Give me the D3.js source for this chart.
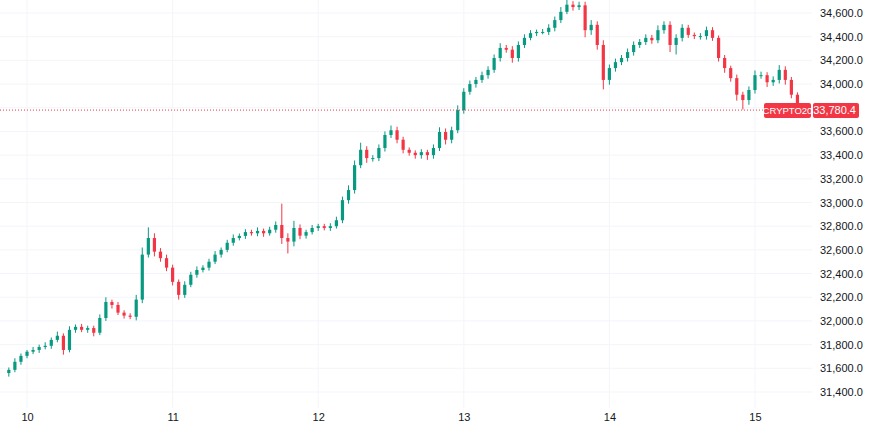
<!DOCTYPE html>
<html>
<head>
<meta charset="utf-8">
<script src="https://cdn.jsdelivr.net/npm/d3@7"></script>
<style>
  body { margin: 0; background: #fff; }
  text { font-family: "Liberation Sans", Arial, sans-serif; }
</style>
</head>
<body>
<div id="chart"></div>
<script>
// hourly candles, hour 0 = day 10 00:00, first candle 9th 21:00
const firstHour = -3;
const firstOpen = 31560;
const closes = [
  31587, 31655, 31705, 31740, 31755, 31780, 31790, 31840, 31875, 31755,
  31925, 31950, 31925, 31940, 31900, 32025, 32160, 32135, 32070, 32045,
  32035, 32180, 32560, 32700, 32585, 32530, 32450, 32330, 32220, 32305,
  32390, 32430, 32450, 32500, 32560, 32600, 32660, 32700, 32718, 32750,
  32740, 32760, 32740, 32770, 32810, 32700, 32670, 32785, 32720, 32750,
  32785, 32800, 32785, 32800, 32850, 33020, 33105, 33315, 33445, 33375,
  33375, 33460, 33570, 33610, 33530, 33445, 33420, 33400, 33425, 33400,
  33460, 33595, 33530, 33610, 33780, 33935, 34000, 34035, 34075, 34120,
  34220, 34305, 34290, 34220, 34330, 34390, 34430, 34440, 34440, 34475,
  34540, 34610, 34670, 34650, 34665, 34455, 34500, 34330, 34035, 34135,
  34185, 34220, 34270, 34330, 34355, 34390, 34370, 34455, 34500, 34330,
  34390, 34475, 34415, 34405, 34405, 34455, 34390, 34220, 34135, 34050,
  33910, 33865, 33950, 34075, 34075, 34015, 34035, 34120, 34035, 33910,
  33780.4
];
// wick extensions beyond the body (price units)
const wickUp = [
  20, 30, 20, 15, 25, 20, 30, 20, 35, 20, 30, 20, 25, 20, 20, 30, 40, 20, 25, 20,
  20, 40, 60, 90, 40, 30, 30, 25, 20, 30, 25, 30, 20, 25, 30, 20, 25, 30, 20, 25,
  20, 30, 20, 25, 30, 180, 40, 60, 30, 20, 25, 20, 20, 25, 30, 30, 40, 40, 60, 30,
  25, 30, 30, 40, 30, 25, 20, 20, 25, 20, 30, 40, 30, 30, 40, 30, 30, 25, 30, 30,
  30, 40, 25, 30, 30, 30, 25, 20, 25, 30, 30, 40, 40, 30, 30, 30, 40, 30, 40, 30,
  30, 25, 30, 30, 25, 30, 25, 40, 30, 30, 30, 30, 25, 20, 25, 30, 25, 20, 25, 20,
  30, 25, 30, 40, 30, 25, 30, 40, 30, 25, 20
];
const wickDn = [
  30, 20, 25, 20, 20, 25, 20, 25, 20, 40, 20, 25, 20, 25, 30, 20, 25, 30, 20, 25,
  20, 30, 30, 25, 40, 30, 30, 30, 40, 25, 20, 25, 20, 25, 20, 25, 20, 25, 20, 25,
  20, 25, 30, 20, 25, 50, 100, 40, 30, 25, 20, 25, 20, 25, 20, 25, 30, 30, 25, 40,
  30, 25, 30, 25, 30, 30, 25, 30, 30, 40, 30, 25, 40, 30, 25, 30, 25, 30, 25, 30,
  25, 30, 25, 40, 30, 25, 20, 25, 20, 25, 30, 25, 20, 30, 25, 60, 40, 40, 80, 40,
  30, 25, 30, 30, 25, 25, 30, 25, 30, 60, 80, 30, 25, 25, 30, 30, 25, 30, 40, 30,
  50, 80, 40, 30, 30, 40, 30, 30, 40, 30, 20
];
const yTicks = [31400, 31600, 31800, 32000, 32200, 32400, 32600, 32800, 33000,
  33200, 33400, 33600, 33800, 34000, 34200, 34400, 34600];
const dayLabels = ["10", "11", "12", "13", "14", "15"];
const symbol = "CRYPTO20";

const W = 870, H = 427;
const plotRight = 812;
const upColor = "#089981", downColor = "#f23645";

const candles = closes.map((c, i) => {
  const o = i === 0 ? firstOpen : closes[i - 1];
  return {
    h: firstHour + i, o: o, c: c,
    hi: Math.max(o, c) + wickUp[i],
    lo: Math.min(o, c) - wickDn[i]
  };
});

const x = d3.scaleLinear().domain([-3.3, 129.4]).range([7, plotRight]);
const y = d3.scaleLinear().domain([31400, 34600]).range([392, 13]);
const last = closes[closes.length - 1];

const svg = d3.select("#chart").append("svg")
  .attr("width", W).attr("height", H);

// grid
svg.append("g").selectAll("line").data(yTicks).join("line")
  .attr("x1", 0).attr("x2", plotRight)
  .attr("y1", d => y(d)).attr("y2", d => y(d))
  .attr("stroke", "#f3f5fa");
svg.append("g").selectAll("line").data(dayLabels).join("line")
  .attr("x1", (d, i) => x(i * 24)).attr("x2", (d, i) => x(i * 24))
  .attr("y1", 0).attr("y2", 408)
  .attr("stroke", "#f3f5fa");

// y axis labels (the one hidden behind the last-price tag is skipped)
const yAxis = d3.axisRight(y)
  .tickValues(yTicks.filter(t => Math.abs(y(t) - y(last)) > 12))
  .tickSize(0).tickPadding(0)
  .tickFormat(d => d3.format(",.1f")(d));
svg.append("g")
  .attr("transform", `translate(${plotRight + 8},0)`)
  .call(yAxis)
  .call(g => g.select(".domain").remove())
  .call(g => g.selectAll("text").attr("font-size", 11).attr("fill", "#131722"));

// x axis labels
const xAxis = d3.axisBottom(x).tickValues(dayLabels.map((d, i) => i * 24))
  .tickSize(0).tickPadding(0)
  .tickFormat((d, i) => dayLabels[i]);
svg.append("g")
  .attr("transform", "translate(0,413)")
  .call(xAxis)
  .call(g => g.select(".domain").remove())
  .call(g => g.selectAll("text").attr("font-size", 11).attr("fill", "#131722"));

// candles
const bw = 3.2;
const cg = svg.append("g");
cg.selectAll("line").data(candles).join("line")
  .attr("x1", d => x(d.h)).attr("x2", d => x(d.h))
  .attr("y1", d => y(d.hi)).attr("y2", d => y(d.lo))
  .attr("stroke", d => d.c >= d.o ? upColor : downColor)
  .attr("stroke-width", 1);
cg.selectAll("rect").data(candles).join("rect")
  .attr("x", d => x(d.h) - bw / 2)
  .attr("width", bw)
  .attr("y", d => y(Math.max(d.o, d.c)))
  .attr("height", d => Math.max(1, Math.abs(y(d.o) - y(d.c))))
  .attr("fill", d => d.c >= d.o ? upColor : downColor);

// last price line and labels
svg.append("line")
  .attr("x1", 0).attr("x2", plotRight)
  .attr("y1", y(last)).attr("y2", y(last))
  .attr("stroke", downColor).attr("stroke-width", 1)
  .attr("stroke-dasharray", "1,2");
svg.append("rect").attr("x", 764).attr("y", y(last) - 7).attr("width", 47).attr("height", 15)
  .attr("rx", 2).attr("fill", downColor);
svg.append("text").attr("x", 787.5).attr("y", y(last) + 3.5).attr("text-anchor", "middle")
  .attr("font-size", 9.5).attr("fill", "#fff").text(symbol);
svg.append("rect").attr("x", 813).attr("y", y(last) - 7).attr("width", 46).attr("height", 15)
  .attr("rx", 2).attr("fill", downColor);
svg.append("text").attr("x", 856).attr("y", y(last) + 4).attr("text-anchor", "end")
  .attr("font-size", 11).attr("fill", "#fff").text(d3.format(",.1f")(last));
</script>
</body>
</html>
